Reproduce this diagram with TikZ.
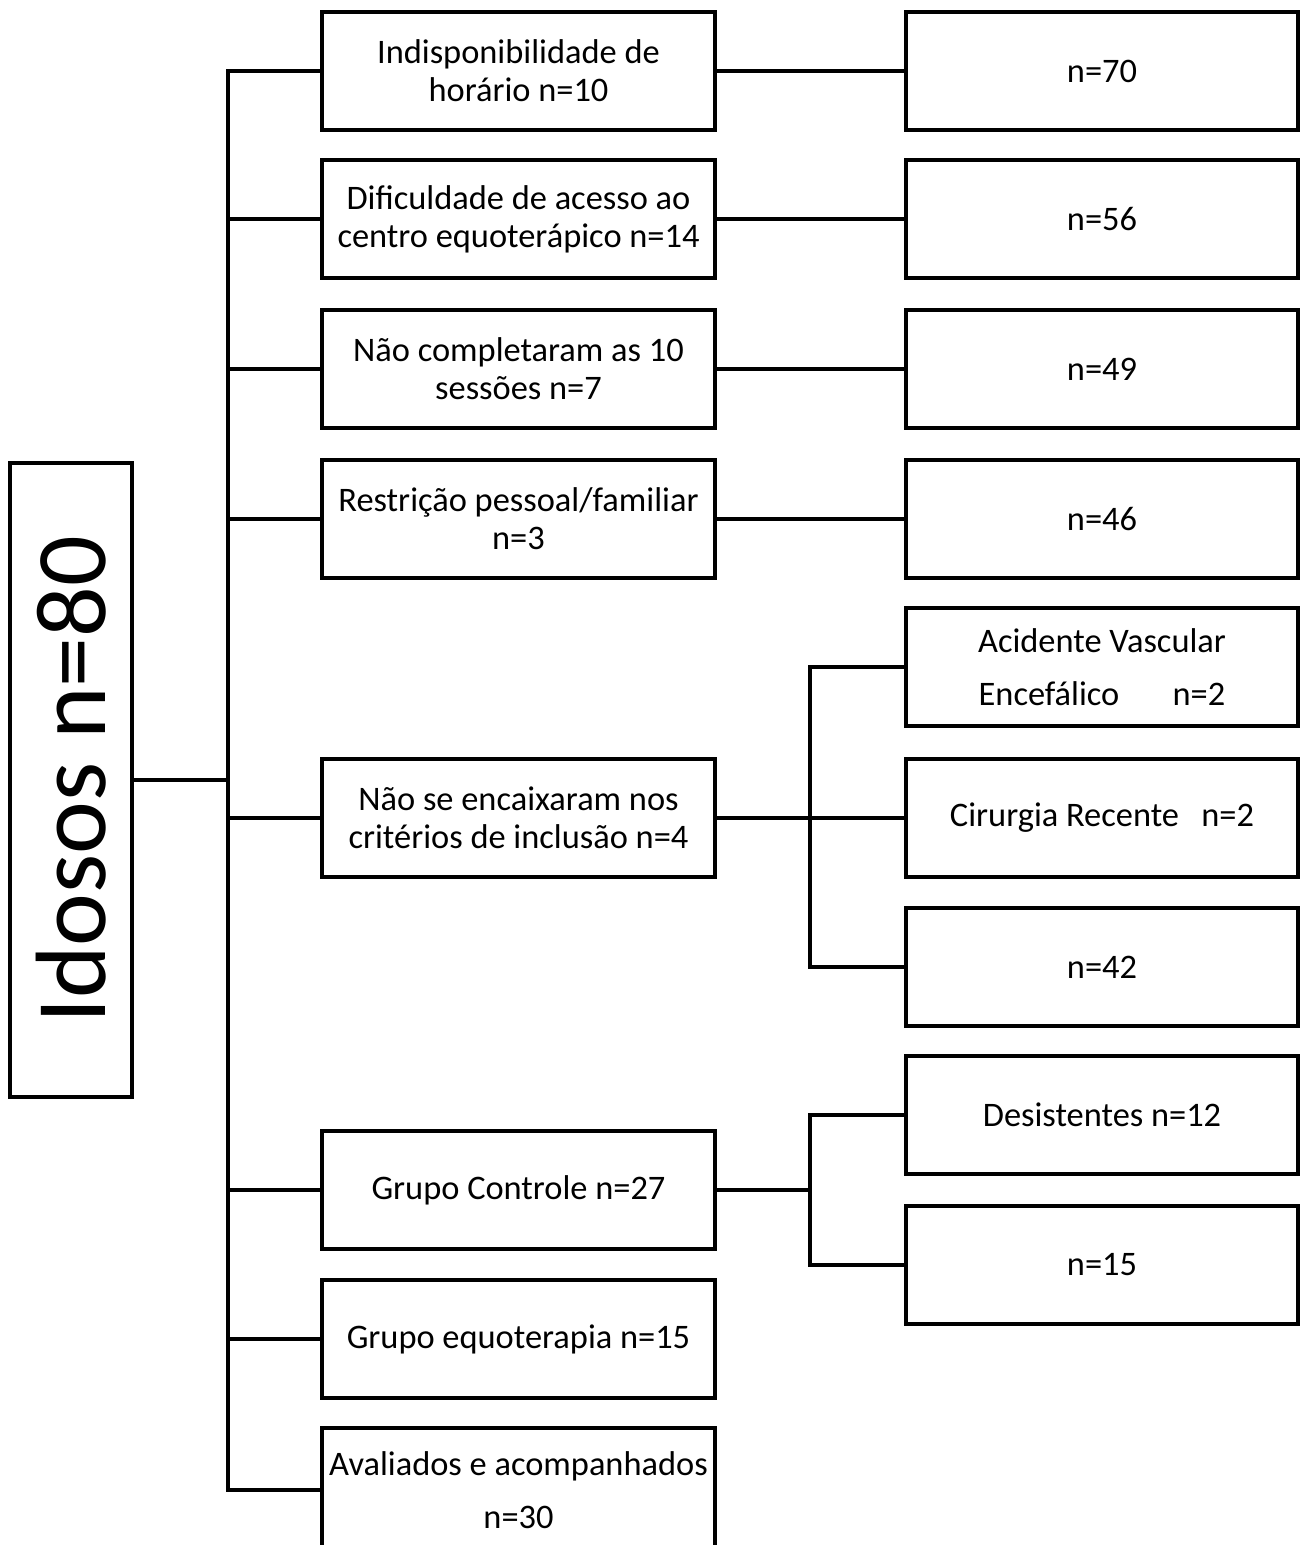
\documentclass[tikz,border=0pt]{standalone}
\usepackage{fontspec}
\setmainfont{Carlito}
\begin{document}
\begin{tikzpicture}[x=0.75pt,y=-0.75pt,
  line width=3pt,
  box/.style={draw, line width=3pt, align=center, inner sep=2pt,
    font=\fontsize{25.8}{28.5}\selectfont},
  mid/.style={box, minimum width=294.75pt, minimum height=88.5pt},
  rgt/.style={box, minimum width=294pt, minimum height=88.5pt},
  wide/.style={font=\fontsize{25.8}{40}\selectfont}]
\useasboundingbox (0,0) rectangle (1307,1545);
\clip (0,0) rectangle (1307,1545);
\fill[white] (0,0) rectangle (1307,1545);

\node[box, minimum width=91.5pt, minimum height=475.5pt] (L) at (71,780) {};
\node[rotate=90, font=\fontsize{75}{80}\selectfont] (Ltxt) at (71,780) {Idosos n=80};

\node[mid] (m1) at (518.5,71) {Indisponibilidade de\\horário n=10};
\node[mid] (m2) at (518.5,219) {Dificuldade de acesso ao\\centro equoterápico n=14};
\node[mid] (m3) at (518.5,369) {Não completaram as 10\\sessões n=7};
\node[mid] (m4) at (518.5,519) {Restrição pessoal/familiar\\n=3};
\node[mid] (m5) at (518.5,818) {Não se encaixaram nos\\critérios de inclusão n=4};
\node[mid] (m6) at (518.5,1190) {Grupo Controle n=27};
\node[mid] (m7) at (518.5,1339) {Grupo equoterapia n=15};
\node[mid, wide, minimum height=93pt] (m8) at (518.5,1490) {Avaliados e acompanhados\\n=30};

\node[rgt] (r1) at (1102,71) {n=70};
\node[rgt] (r2) at (1102,219) {n=56};
\node[rgt] (r3) at (1102,369) {n=49};
\node[rgt] (r4) at (1102,519) {n=46};
\node[rgt, wide] (r5) at (1102,667) {Acidente Vascular\\Encefálico\hspace{1.55em}n=2};
\node[rgt] (r6) at (1102,818) {Cirurgia Recente\hspace{0.65em}n=2};
\node[rgt] (r7) at (1102,967) {n=42};
\node[rgt] (r8) at (1102,1115) {Desistentes n=12};
\node[rgt] (r9) at (1102,1265) {n=15};

\coordinate (tx) at (228,0);
\coordinate (bx) at (810,0);

\draw (L.east) -- (L.east -| tx);
\draw (m1.west) -- (m1.west -| tx) -- (m8.west -| tx) -- (m8.west);
\foreach \i in {2,...,7} \draw (m\i.west -| tx) -- (m\i.west);
\foreach \i in {1,...,4} \draw (m\i.east) -- (r\i.west);

\draw (r5.west) -- (r5.west -| bx) -- (r7.west -| bx) -- (r7.west);
\draw (m5.east) -- (r6.west);
\draw (r8.west) -- (r8.west -| bx) -- (r9.west -| bx) -- (r9.west);
\draw (m6.east) -- (m6.east -| bx);
\end{tikzpicture}
\end{document}
